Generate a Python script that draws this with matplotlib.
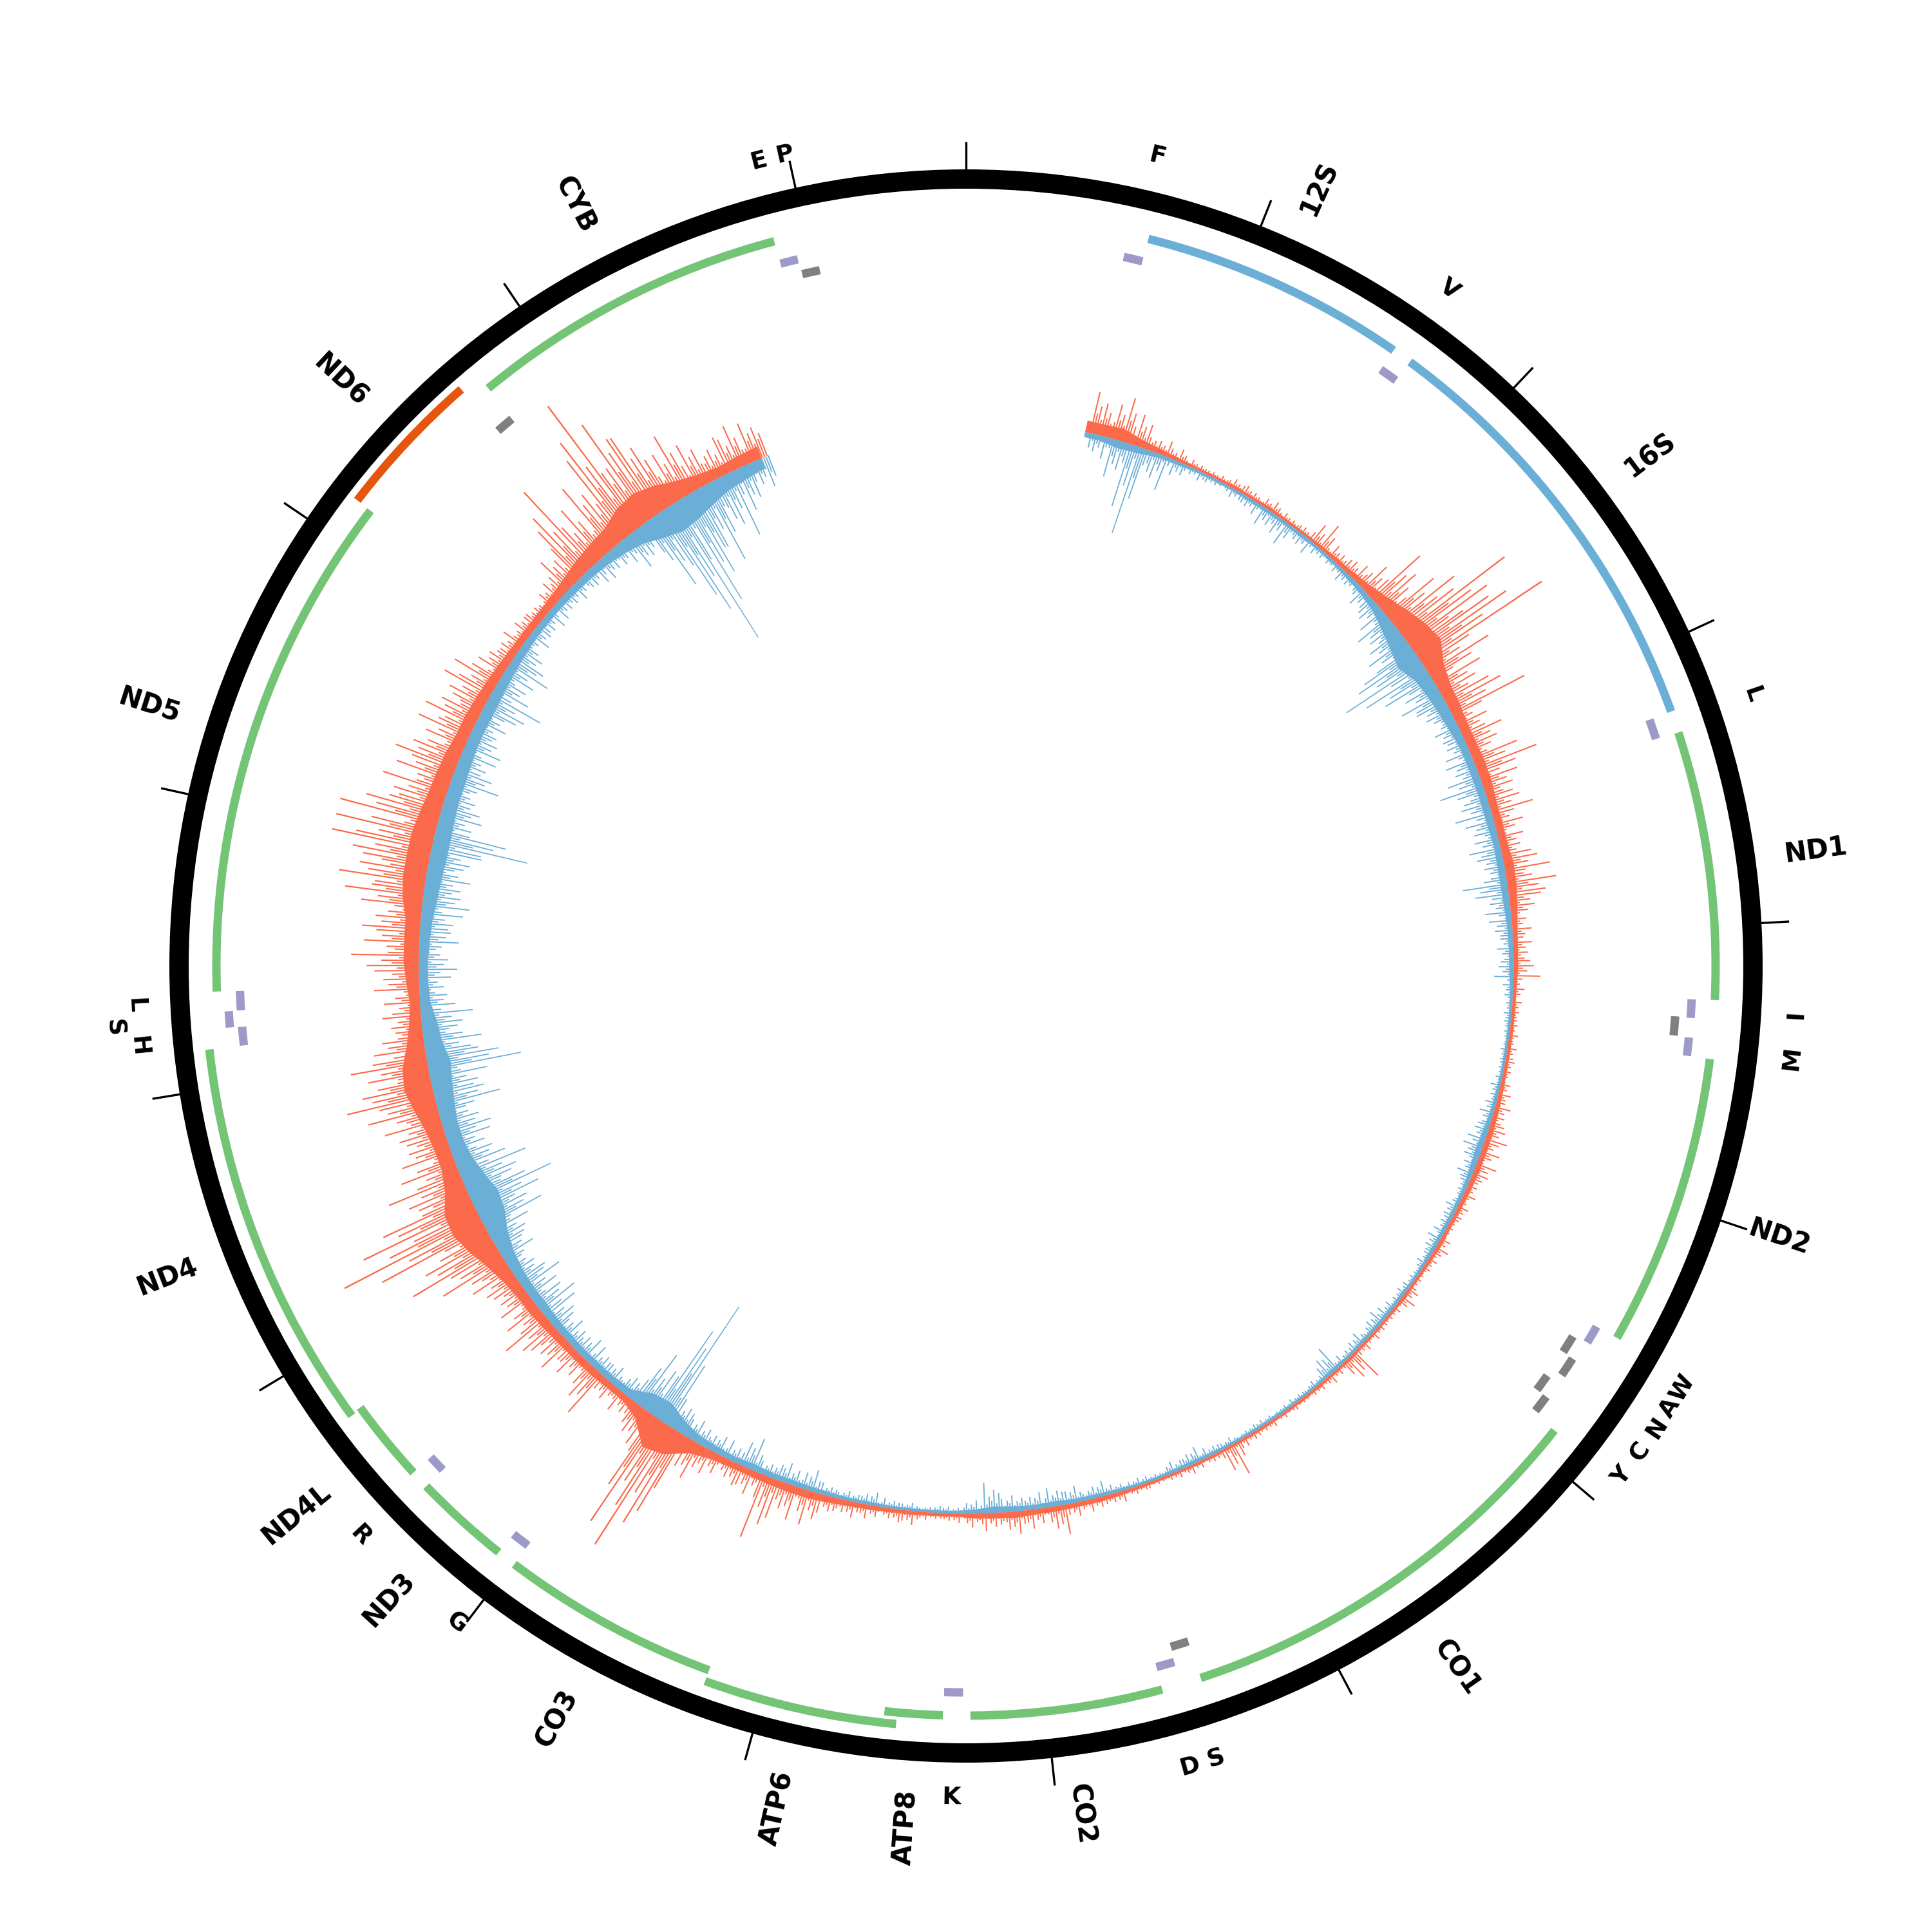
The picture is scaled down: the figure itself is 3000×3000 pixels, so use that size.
import numpy as np
import matplotlib
matplotlib.use('Agg')
import matplotlib.pyplot as plt

GENOME = 16569

# protein-coding / rRNA genes
gene_names = ['12S', '16S', 'ND1', 'ND2', 'CO1', 'CO2', 'ATP8', 'ATP6', 'CO3',
              'ND3', 'ND4L', 'ND4', 'ND5', 'ND6', 'CYB']
gene_starts = [648, 1671, 3307, 4470, 5904, 7586, 8366, 8527, 9207,
               10059, 10470, 10760, 12337, 14149, 14747]
gene_ends = [1601, 3229, 4262, 5511, 7445, 8269, 8572, 9207, 9990,
             10404, 10766, 12137, 14148, 14673, 15887]
gene_types = ['rRNA', 'rRNA', 'H', 'H', 'H', 'H', 'H', 'H', 'H',
              'H', 'H', 'H', 'H', 'L', 'H']

# tRNAs
trna_names = ['F', 'V', 'L1', 'I', 'Q', 'M', 'W', 'A', 'N', 'C', 'Y', 'S1', 'D',
              'K', 'G', 'R', 'H', 'S2', 'L2', 'E', 'T', 'P']
trna_starts = [577, 1602, 3230, 4263, 4329, 4402, 5512, 5587, 5657, 5761, 5826,
               7446, 7518, 8295, 9991, 10405, 12138, 12207, 12266, 14674, 15888, 15956]
trna_ends = [647, 1670, 3304, 4331, 4400, 4469, 5579, 5655, 5729, 5826, 5891,
             7514, 7585, 8364, 10058, 10469, 12206, 12265, 12336, 14742, 15953, 16023]
trna_strand = ['H', 'H', 'H', 'H', 'L', 'H', 'H', 'L', 'L', 'L', 'L', 'L', 'H',
               'H', 'H', 'H', 'H', 'H', 'H', 'L', 'H', 'L']

# tRNA labels as printed on the map
trna_label_text = ['F', 'V', 'L', 'I', 'M', 'W', 'A', 'N', 'C', 'Y', 'S', 'D',
                   'K', 'G', 'R', 'H', 'S', 'L', 'E', 'P']
trna_label_pos = [612, 1636, 3267, 4297, 4435, 5545, 5621, 5697, 5790, 5885, 7480, 7566,
                  8330, 10024, 10437, 12172, 12236, 12301, 15905, 15990]
trna_label_outer = [False] * 16 + [True] + [False] * 3

# coverage in 100 bp bins (forward strand outward, reverse strand inward)
bin_start = list(range(600, 15600, 100))
fwd_body = [18, 20, 12, 8, 5, 4, 4, 5, 4, 5,
            4, 4, 5, 6, 8, 12, 20, 30, 40, 45,
            28, 20, 18, 15, 15, 16, 15, 12, 12, 12,
            15, 14, 11, 8, 7, 7, 5, 5, 5, 5,
            5, 6, 7, 8, 8, 8, 7, 6, 5, 6,
            5, 4, 5, 4, 4, 4, 5, 4, 4, 4,
            4, 4, 4, 4, 4, 4, 4, 4, 5, 6,
            7, 7, 8, 8, 10, 8, 7, 5, 5, 6,
            6, 7, 8, 10, 12, 12, 11, 10, 10, 12,
            20, 42, 50, 20, 10, 10, 12, 12, 12, 14,
            16, 16, 20, 28, 40, 50, 48, 32, 24, 24,
            28, 36, 44, 40, 28, 20, 16, 20, 24, 24,
            24, 32, 36, 36, 36, 32, 28, 26, 24, 20,
            20, 18, 16, 14, 12, 12, 12, 14, 18, 24,
            28, 32, 44, 48, 40, 28, 20, 16, 18, 20]
fwd_peak = [65, 70, 50, 25, 20, 12, 10, 15, 15, 18,
            12, 15, 45, 22, 30, 50, 100, 120, 200, 225,
            110, 80, 127, 50, 65, 100, 60, 67, 45, 40,
            71, 77, 50, 30, 30, 42, 18, 15, 14, 15,
            15, 20, 25, 35, 30, 33, 20, 18, 12, 22,
            15, 12, 24, 12, 14, 15, 52, 16, 12, 10,
            10, 12, 15, 52, 14, 15, 12, 10, 12, 18,
            20, 22, 47, 30, 36, 28, 22, 15, 12, 22,
            20, 22, 25, 30, 55, 54, 103, 40, 35, 40,
            60, 217, 190, 60, 35, 30, 78, 45, 57, 81,
            60, 55, 70, 110, 150, 237, 191, 120, 90, 80,
            90, 110, 138, 120, 80, 60, 56, 70, 105, 86,
            90, 122, 135, 157, 156, 156, 104, 90, 100, 85,
            84, 81, 76, 46, 36, 30, 25, 35, 60, 156,
            96, 120, 235, 180, 138, 104, 75, 60, 69, 64]
rev_body = [8, 12, 10, 6, 5, 4, 4, 4, 5, 5,
            5, 5, 4, 5, 6, 8, 12, 20, 28, 35,
            24, 20, 18, 15, 12, 12, 12, 12, 12, 10,
            11, 11, 10, 8, 7, 7, 5, 4, 4, 4,
            4, 5, 6, 8, 10, 8, 6, 6, 6, 6,
            5, 4, 5, 5, 5, 5, 4, 6, 4, 4,
            4, 4, 4, 4, 5, 6, 5, 4, 4, 5,
            6, 6, 8, 7, 8, 10, 6, 4, 4, 4,
            4, 5, 5, 6, 7, 8, 8, 10, 8, 10,
            12, 20, 32, 28, 12, 10, 10, 10, 11, 12,
            14, 14, 16, 20, 28, 40, 44, 36, 28, 24,
            24, 28, 32, 36, 28, 24, 16, 14, 14, 16,
            18, 22, 24, 26, 26, 24, 22, 22, 20, 18,
            18, 18, 16, 14, 12, 10, 10, 10, 11, 12,
            14, 18, 24, 36, 44, 40, 32, 24, 20, 16]
rev_peak = [35, 60, 140, 55, 25, 15, 12, 15, 20, 30,
            38, 24, 15, 14, 20, 30, 45, 60, 70, 140,
            110, 70, 50, 40, 40, 45, 70, 58, 45, 50,
            40, 70, 40, 35, 25, 30, 16, 12, 10, 10,
            10, 15, 22, 28, 31, 25, 15, 20, 18, 22,
            15, 12, 14, 19, 24, 21, 15, 41, 12, 10,
            8, 10, 10, 12, 16, 24, 18, 10, 12, 14,
            23, 26, 30, 25, 25, 47, 20, 10, 10, 12,
            15, 21, 15, 18, 34, 32, 25, 52, 30, 30,
            35, 50, 214, 97, 40, 30, 35, 38, 39, 58,
            67, 69, 50, 55, 70, 100, 136, 110, 80, 70,
            75, 101, 90, 146, 90, 81, 55, 50, 60, 62,
            65, 74, 70, 80, 150, 67, 60, 77, 57, 60,
            50, 89, 60, 70, 54, 35, 33, 30, 30, 35,
            38, 41, 60, 124, 246, 182, 131, 107, 70, 48]

# layout (radii in pixels of the 3000 px canvas)
R_BASE = 850
R_RING = 1222
R_GENE_H = 1164
R_GENE_L = 1190
R_TRNA = {('H', 0): 1128, ('H', 1): 1147, ('L', 0): 1104, ('L', 1): 1122}
R_LABEL = 1282
R_TLABEL = 1291
BIN = 100

RED = '#fb6a4a'
BLUE = '#6baed6'
GREEN = '#74c476'
ORANGE = '#e6550d'
PURPLE = '#9e9ac8'
GREY = '#808080'


def ang(bp):
    return np.asarray(bp, dtype=float) / GENOME * 2 * np.pi


fig = plt.figure(figsize=(10, 10), dpi=300)
ax = fig.add_axes([0, 0, 1, 1], projection='polar')
ax.set_theta_zero_location('N')
ax.set_theta_direction(-1)
ax.set_ylim(0, 1500)
ax.axis('off')

# coverage: dense body as a filled band, reads drawn as thin strokes up to the bin peak
w = ang(BIN)
centers = ang(np.array(bin_start) + BIN / 2)
idx = np.arange(len(bin_start))
fwd_body = np.array(fwd_body)
rev_body = np.array(rev_body)
fwd_peak = np.array(fwd_peak)
rev_peak = np.array(rev_peak)
edge_t = np.concatenate([[ang(577)], centers, [ang(15560)]])
fb = np.concatenate([[fwd_body[0]], fwd_body, [fwd_body[-1]]])
rb = np.concatenate([[rev_body[0]], rev_body, [rev_body[-1]]])
ax.fill_between(edge_t, R_BASE, R_BASE + fb, color=RED, lw=0)
ax.fill_between(edge_t, R_BASE - rb, R_BASE, color=BLUE, lw=0)

sw = ang(6)
offsets = [-0.45, -0.33, -0.21, -0.09, 0.03, 0.15, 0.27, 0.39]
fracs = [1.0, 0.3, 0.55, 0.12, 0.7, 0.22, 0.42, 0.08]
for k, off in enumerate(offsets):
    fr = np.array(fracs)[(k + 3 * idx) % 8]
    ax.bar(centers + w * off, fwd_body + fr * (fwd_peak - fwd_body), width=sw,
           bottom=R_BASE, color=RED, lw=0)
    fr = np.array(fracs)[(k + 5 * idx + 2) % 8]
    ax.bar(centers + w * (off + 0.05), -(rev_body + fr * (rev_peak - rev_body)), width=sw,
           bottom=R_BASE, color=BLUE, lw=0)

# outer ring and ticks
ax.bar(0, 30, width=2 * np.pi, bottom=R_RING - 15, align='edge', color='black', lw=0)
for t in range(0, GENOME, 1000):
    ax.plot([ang(t), ang(t)], [R_RING + 14, R_RING + 58], color='black', lw=0.8,
            solid_capstyle='butt')

# genes
prev_end = -1
for name, s, e, kind in zip(gene_names, gene_starts, gene_ends, gene_types):
    if kind == 'rRNA':
        col, r = BLUE, R_GENE_H
    elif kind == 'L':
        col, r = ORANGE, R_GENE_L
    else:
        col, r = GREEN, R_GENE_H
    if kind != 'L' and s < prev_end:
        r = R_GENE_H + 18
    if kind != 'L':
        prev_end = e
    ax.bar(ang(s), 13, width=ang(e - s), bottom=r - 6.5, align='edge', color=col, lw=0)

    mid = (s + e) / 2
    deg = mid / GENOME * 360
    if deg < 180:
        rot, ha = 90 - deg, 'left'
    else:
        rot, ha = 270 - deg, 'right'
    ax.text(ang(mid), R_LABEL, name, rotation=rot, rotation_mode='anchor',
            ha=ha, va='center', fontsize=10, fontweight='bold', color='black')

# tRNAs
last = {'H': (-100, 1), 'L': (-100, 1)}
for name, s, e, strand in zip(trna_names, trna_starts, trna_ends, trna_strand):
    pe, plev = last[strand]
    lev = 1 if (s - pe <= 3 and plev == 0) else 0
    last[strand] = (e, lev)
    col = PURPLE if strand == 'H' else GREY
    r = R_TRNA[(strand, lev)]
    ax.bar(ang(s), 13, width=ang(e - s), bottom=r - 6.5, align='edge', color=col, lw=0)

for txt, pos, outer in zip(trna_label_text, trna_label_pos, trna_label_outer):
    deg = pos / GENOME * 360
    rot = -deg if (deg <= 90 or deg >= 270) else 180 - deg
    r = R_TLABEL + (36 if outer else 0)
    ax.text(ang(pos), r, txt, rotation=rot, rotation_mode='anchor',
            ha='center', va='center', fontsize=9, fontweight='bold', color='black')

fig.savefig('out.png', dpi=300, facecolor='white')
